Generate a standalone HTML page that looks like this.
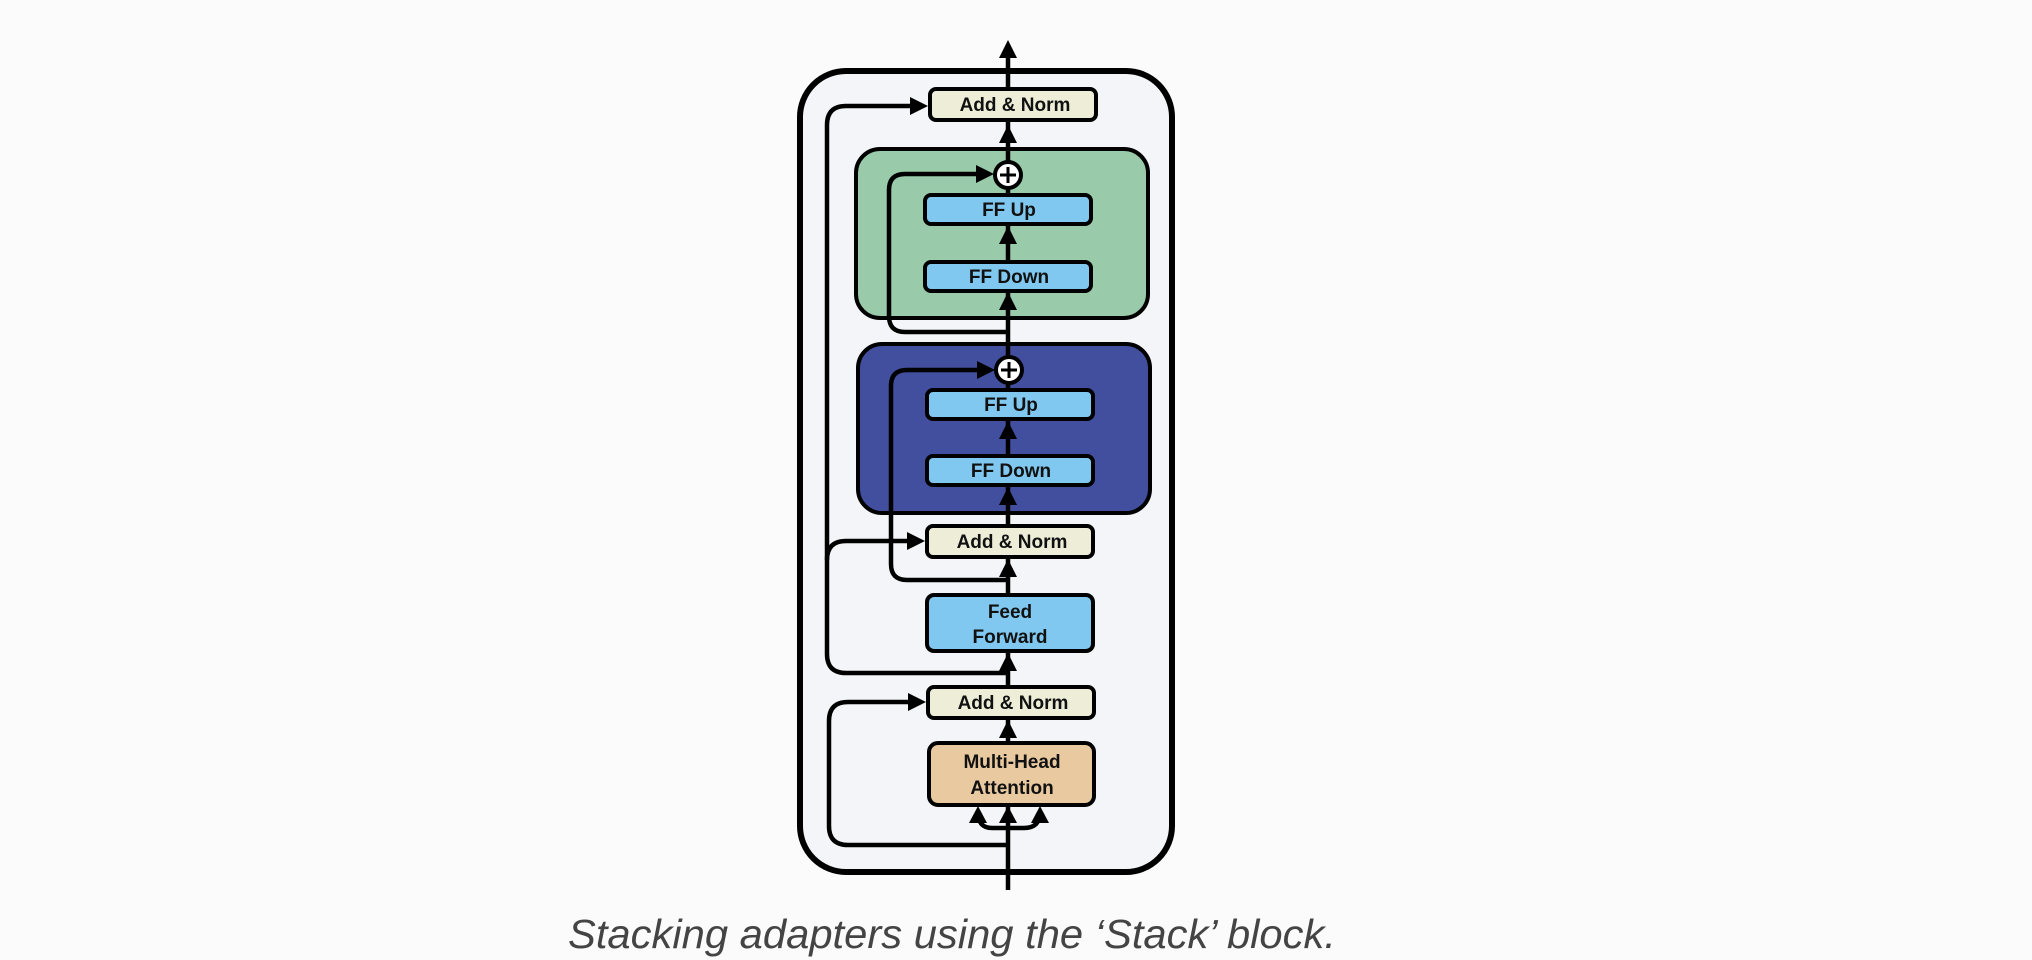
<!DOCTYPE html>
<html><head><meta charset="utf-8"><style>
html,body{margin:0;padding:0;background:#fbfbfb;}
svg{display:block;}
text{font-family:"Liberation Sans",sans-serif;}
</style></head><body>
<svg width="2032" height="960" viewBox="0 0 2032 960" xmlns="http://www.w3.org/2000/svg">
<rect width="2032" height="960" fill="#fbfbfb"/>
<rect x="800" y="71" width="372" height="801" rx="46" fill="#f4f5f8" stroke="#000" stroke-width="6"/>
<rect x="856" y="149" width="292" height="169" rx="24" fill="#99cbab" stroke="#000" stroke-width="4"/>
<rect x="858" y="344" width="292" height="169" rx="24" fill="#414f9e" stroke="#000" stroke-width="4"/>

<g fill="none" stroke="#000" stroke-width="4.5" stroke-linejoin="round">
<path d="M1008 890 V50"/>
<path d="M1008 673 H846 Q827 673 827 654 V125 Q827 106 846 106 H920"/>
<path d="M827 560 Q827 541 846 541 H917"/>
<path d="M1008 845 H848 Q829 845 829 826 V721 Q829 702 848 702 H918"/>
<path d="M1008 580 H907 Q891 580 891 564 V386 Q891 370 907 370 H987"/>
<path d="M1008 332 H905 Q889 332 889 316 V190 Q889 174 905 174 H986"/>
<path d="M1008 828 H992 Q978 828 978 812"/>
<path d="M1008 828 H1024 Q1040 828 1040 812"/>
</g>
<g fill="#000">
<path d="M1008 40 l-9 18 h18z"/>
<path d="M1008 125 l-9 18 h18z"/>
<path d="M1008 226 l-9 18 h18z"/>
<path d="M1008 292 l-9 18 h18z"/>
<path d="M1008 421 l-9 18 h18z"/>
<path d="M1008 487 l-9 18 h18z"/>
<path d="M1008 559 l-9 18 h18z"/>
<path d="M1008 653 l-9 18 h18z"/>
<path d="M1008 720 l-9 18 h18z"/>
<path d="M1008 806 l-9 17 h18z"/>
<path d="M978 806 l-9 17 h18z"/>
<path d="M1040 806 l-9 17 h18z"/>
<path d="M928 106 l-18 -9 v18z"/>
<path d="M925 541 l-18 -9 v18z"/>
<path d="M926 702 l-18 -9 v18z"/>
<path d="M994 174 l-18 -9 v18z"/>
<path d="M995 370 l-18 -9 v18z"/>
</g>
<g stroke="#000" stroke-width="4">
<circle cx="1008" cy="175" r="13" fill="#fff"/>
<path d="M1000 175 h16 M1008 167 v16" stroke-width="3"/>
<circle cx="1009" cy="370" r="13" fill="#fff"/>
<path d="M1001 370 h16 M1009 362 v16" stroke-width="3"/>
</g>
<g stroke="#000" stroke-width="4">
<rect x="930" y="89" width="166" height="31" rx="6" fill="#eeeed8"/>
<rect x="925" y="195" width="166" height="29" rx="6" fill="#80c8ef"/>
<rect x="925" y="262" width="166" height="29" rx="6" fill="#80c8ef"/>
<rect x="927" y="390" width="166" height="29" rx="6" fill="#80c8ef"/>
<rect x="927" y="456" width="166" height="29" rx="6" fill="#80c8ef"/>
<rect x="927" y="526" width="166" height="31" rx="6" fill="#eeeed8"/>
<rect x="927" y="595" width="166" height="56" rx="7" fill="#80c8ef"/>
<rect x="928" y="687" width="166" height="31" rx="6" fill="#eeeed8"/>
<rect x="929" y="743" width="165" height="62" rx="9" fill="#e9c9a0"/>
</g>
<g font-size="19" font-weight="bold" text-anchor="middle" fill="#111">
<text x="1015" y="111">Add &amp; Norm</text>
<text x="1009" y="216">FF Up</text>
<text x="1009" y="283">FF Down</text>
<text x="1011" y="411">FF Up</text>
<text x="1011" y="477">FF Down</text>
<text x="1012" y="548">Add &amp; Norm</text>
<text x="1010" y="618">Feed</text>
<text x="1010" y="643">Forward</text>
<text x="1013" y="709">Add &amp; Norm</text>
<text x="1012" y="768">Multi-Head</text>
<text x="1012" y="794">Attention</text>
</g>
<text x="568" y="948" font-size="41" font-style="italic" fill="#444" textLength="768" lengthAdjust="spacingAndGlyphs">Stacking adapters using the ‘Stack’ block.</text>
</svg>
</body></html>
